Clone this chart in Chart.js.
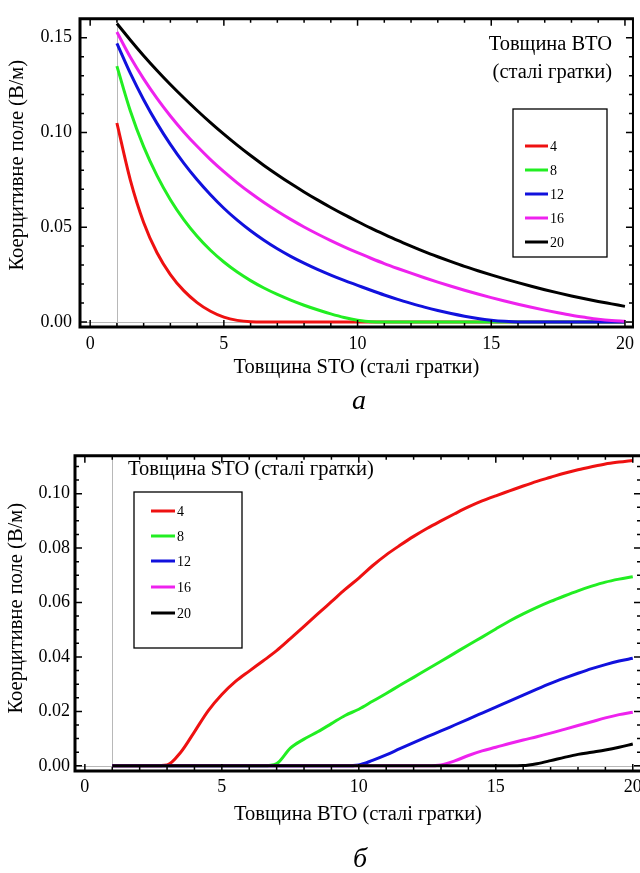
<!DOCTYPE html>
<html>
<head>
<meta charset="utf-8">
<title>Коерцитивне поле</title>
<script src="https://cdn.jsdelivr.net/npm/chart.js"></script>
<style>
  body { margin: 0; width: 640px; height: 873px; overflow: hidden; background: #fff; position: relative; font-family: "Liberation Serif", serif; }
  .box { position: absolute; left: 0; width: 640px; overflow: hidden; }
  .box canvas { display: block; }
  .cap { position: absolute; font-style: italic; font-size: 28px; line-height: 1; transform: translate(-50%, -50%); }
</style>
</head>
<body>
<div class="box" style="top:0;height:390px"><canvas id="chart_a" width="640" height="390"></canvas></div>
<div class="cap" style="left:359px;top:400px">а</div>
<div class="box" style="top:440px;height:400px"><canvas id="chart_b" width="660" height="400"></canvas></div>
<div class="cap" style="left:360px;top:858px">б</div>
<script>
// thickness in lattice constants (x for both panels)
const thickness = [1,1.5,2,2.5,3,3.5,4,4.5,5,5.5,6,6.5,7,7.5,8,8.5,9,9.5,10,10.5,11,11.5,12,12.5,13,13.5,14,14.5,15,15.5,16,16.5,17,17.5,18,18.5,19,19.5,20];
const labels = ["4", "8", "12", "16", "20"];
const colors = ["#ee1111", "#22ee22", "#1111dd", "#ee22ee", "#000000"];

// panel a: field vs STO thickness, one line per BTO thickness
const a4  = [0.105,0.075,0.0525,0.0365,0.025,0.0165,0.0102,0.0056,0.0025,0.0008,0.0001,0,0,0,0,0,0,0,0,0,0,0,0,0,0,0,0,0,0,0,0,0,0,0,0,0,0,0,0];
const a8  = [0.135,0.1115,0.0925,0.0772,0.0645,0.054,0.0452,0.0378,0.0316,0.0263,0.0218,0.0179,0.0145,0.0115,0.0088,0.0064,0.0042,0.0023,0.0009,0.0001,0,0,0,0,0,0,0,0,0,0,0,0,0,0,0,0,0,0,0];
const a12 = [0.147,0.1313,0.1173,0.1048,0.0937,0.0838,0.075,0.0671,0.060,0.0537,0.0481,0.0431,0.0386,0.0346,0.031,0.0277,0.0247,0.0219,0.0193,0.0167,0.0142,0.0119,0.0098,0.0078,0.006,0.0044,0.003,0.0018,0.0009,0.0003,0,0,0,0,0,0,0,0,0];
const a16 = [0.153,0.1398,0.1283,0.118,0.1087,0.1003,0.0927,0.0857,0.0793,0.0734,0.068,0.063,0.0584,0.0541,0.0501,0.0464,0.0429,0.0396,0.0365,0.0336,0.0308,0.0282,0.0257,0.0233,0.021,0.0188,0.0167,0.0147,0.0128,0.011,0.0093,0.0077,0.0062,0.0048,0.0035,0.0024,0.0014,0.0007,0.0003];
const a20 = [0.1575,0.1488,0.1405,0.1327,0.1253,0.1183,0.1116,0.1052,0.0991,0.0933,0.0878,0.0826,0.0777,0.073,0.0686,0.0644,0.0604,0.0566,0.053,0.0495,0.0462,0.043,0.04,0.0371,0.0344,0.0318,0.0293,0.027,0.0248,0.0227,0.0207,0.0188,0.017,0.0153,0.0137,0.0122,0.0108,0.0095,0.0082];

// panel b: field vs BTO thickness, one line per STO thickness
const b4  = [0,0,0,0,0.0003,0.005,0.0125,0.0202,0.0262,0.031,0.0348,0.0385,0.0423,0.0467,0.0512,0.0558,0.0603,0.0648,0.069,0.0735,0.0775,0.081,0.0843,0.0873,0.090,0.0926,0.0951,0.0973,0.0992,0.101,0.1028,0.1045,0.106,0.1075,0.1088,0.1099,0.1109,0.1116,0.1122];
const b8  = [0,0,0,0,0,0,0,0,0,0,0,0,0.0008,0.0065,0.0098,0.0125,0.0155,0.0185,0.0208,0.0237,0.0266,0.0296,0.0325,0.0355,0.0384,0.0414,0.0444,0.0473,0.0503,0.0532,0.0558,0.0582,0.0604,0.0624,0.0643,0.066,0.0675,0.0686,0.0695];
const b12 = [0,0,0,0,0,0,0,0,0,0,0,0,0,0,0,0,0,0,0.0003,0.002,0.004,0.0063,0.0085,0.0107,0.0128,0.015,0.0172,0.0194,0.0216,0.0238,0.026,0.0282,0.0303,0.0322,0.034,0.0357,0.0372,0.0385,0.0395];
const b16 = [0,0,0,0,0,0,0,0,0,0,0,0,0,0,0,0,0,0,0,0,0,0,0,0,0.0003,0.0018,0.0038,0.0055,0.0068,0.0082,0.0095,0.0107,0.012,0.0134,0.0148,0.0162,0.0176,0.0188,0.0197];
const b20 = [0,0,0,0,0,0,0,0,0,0,0,0,0,0,0,0,0,0,0,0,0,0,0,0,0,0,0,0,0,0,0.0001,0.0008,0.0019,0.0031,0.0042,0.005,0.0058,0.0068,0.008];

const xTicks = [0, 5, 10, 15, 20];
const yTicksA = [0, 0.05, 0.10, 0.15];
const yTicksB = [0, 0.02, 0.04, 0.06, 0.08, 0.10];

const yTitle = "Коерцитивне поле (В/м)";
const xTitleA = "Товщина STO (сталі гратки)";
const xTitleB = "Товщина ВТО (сталі гратки)";

const serif = "'Liberation Serif', 'Times New Roman', serif";

function datasets(series) {
  return series.map((vals, i) => ({
    label: labels[i],
    data: thickness.map((t, j) => ({ x: t, y: vals[j] })),
    borderColor: colors[i],
    backgroundColor: colors[i],
    borderWidth: 3,
    pointRadius: 0,
    fill: false,
    cubicInterpolationMode: "monotone",
    order: series.length - i   // later series drawn on top
  }));
}

// Mathematica-like frame: thin guide lines, inward ticks, boxed legend
const framePlugin = {
  id: "frame",
  beforeDatasetsDraw(chart) {
    const { ctx, chartArea: a, scales: { x, y } } = chart;
    ctx.save();
    ctx.strokeStyle = "#b8b8b8";
    ctx.lineWidth = 1;
    const px = Math.round(x.getPixelForValue(1)) + 0.5;
    const py = Math.round(y.getPixelForValue(0)) + 0.5;
    ctx.beginPath();
    ctx.moveTo(px, a.top); ctx.lineTo(px, a.bottom);
    ctx.moveTo(a.left, py); ctx.lineTo(a.right, py);
    ctx.stroke();
    ctx.restore();
  },
  afterDatasetsDraw(chart, args, opts) {
    const { ctx, chartArea: a, scales: { x, y } } = chart;
    ctx.save();
    ctx.strokeStyle = "#000";
    ctx.lineWidth = 1.5;
    ctx.beginPath();
    for (let v = 0; v <= 20; v++) {
      const p = x.getPixelForValue(v);
      const len = v % 5 === 0 ? 7 : 4;
      ctx.moveTo(p, a.bottom); ctx.lineTo(p, a.bottom - len);
      ctx.moveTo(p, a.top); ctx.lineTo(p, a.top + len);
    }
    for (let i = 0; i * opts.yMinor <= y.max; i++) {
      const p = y.getPixelForValue(i * opts.yMinor);
      const len = i % opts.yMajorEvery === 0 ? 7 : 4;
      ctx.moveTo(a.left, p); ctx.lineTo(a.left + len, p);
      ctx.moveTo(a.right, p); ctx.lineTo(a.right - len, p);
    }
    ctx.stroke();

    ctx.lineWidth = 3;
    ctx.beginPath();
    ctx.moveTo(a.left, a.top - 1.5); ctx.lineTo(a.left, a.bottom + 1.5);
    ctx.moveTo(a.left - 1.5, a.bottom); ctx.lineTo(a.right + 1, a.bottom);
    ctx.moveTo(a.left - 1.5, a.top); ctx.lineTo(a.right + 1, a.top);
    ctx.stroke();
    ctx.lineWidth = 2;
    ctx.beginPath();
    ctx.moveTo(a.right, a.top); ctx.lineTo(a.right, a.bottom);
    ctx.stroke();

    // legend
    const lg = opts.legend;
    ctx.lineWidth = 1.3;
    ctx.strokeRect(lg.box[0], lg.box[1], lg.box[2], lg.box[3]);
    ctx.fillStyle = "#000";
    ctx.font = "20.5px " + serif;
    ctx.textBaseline = "middle";
    ctx.textAlign = lg.titleAlign;
    lg.title.forEach((t, i) => ctx.fillText(t, lg.titleX, lg.titleY[i]));
    ctx.textAlign = "left";
    ctx.font = "14px " + serif;
    chart.data.datasets.forEach((ds, i) => {
      const yy = lg.rows[i];
      ctx.strokeStyle = ds.borderColor;
      ctx.lineWidth = 3;
      ctx.beginPath();
      ctx.moveTo(lg.line[0], yy); ctx.lineTo(lg.line[1], yy);
      ctx.stroke();
      ctx.fillText(ds.label, lg.line[1] + 2, yy + 1);
    });
    ctx.restore();
  }
};

function makeChart(id, series, cfg) {
  return new Chart(document.getElementById(id), {
    type: "line",
    data: { datasets: datasets(series) },
    plugins: [framePlugin],
    options: {
      responsive: false,
      animation: false,
      devicePixelRatio: 1,
      layout: { padding: cfg.padding },
      plugins: {
        legend: { display: false },
        tooltip: { enabled: false },
        frame: cfg.frame
      },
      scales: {
        x: {
          type: "linear",
          min: cfg.xMin, max: cfg.xMax,
          grid: { display: false, drawTicks: false },
          border: { display: false },
          afterBuildTicks: s => { s.ticks = xTicks.map(v => ({ value: v })); },
          afterFit: s => { s.height = cfg.xHeight; },
          ticks: { padding: cfg.xTickPad, color: "#000", font: { family: serif, size: 18 }, callback: v => String(v), maxRotation: 0 },
          title: { display: true, text: cfg.xTitle, color: "#000", font: { family: serif, size: 20.5 }, padding: { top: 0, bottom: cfg.xTitlePad } }
        },
        y: {
          type: "linear",
          min: cfg.yMin, max: cfg.yMax,
          grid: { display: false, drawTicks: false },
          border: { display: false },
          afterBuildTicks: s => { s.ticks = cfg.yTicks.map(v => ({ value: v })); },
          afterFit: s => { s.width = cfg.yWidth; },
          ticks: { padding: cfg.yTickPad, color: "#000", font: { family: serif, size: 18 }, callback: v => v.toFixed(2) },
          // leading no-break spaces nudge the rotated title up a little
          title: { display: true, text: "\u00a0".repeat(cfg.yTitleShift) + yTitle, color: "#000", font: { family: serif, size: 20.5 }, padding: { top: cfg.yTitlePad, bottom: 0 } }
        }
      }
    }
  });
}

makeChart("chart_a", [a4, a8, a12, a16, a20], {
  padding: { top: 10, right: 3, left: 0, bottom: 0 },
  xMin: -0.38, xMax: 20.3, yMin: -0.0027, yMax: 0.160,
  yTicks: yTicksA, xTitle: xTitleA,
  xHeight: 63, yWidth: 80, xTickPad: 6, yTickPad: 8, xTitlePad: 9.7, yTitlePad: 5.5, yTitleShift: 3,
  frame: {
    yMinor: 0.01, yMajorEvery: 5,
    legend: {
      box: [513, 109, 94, 148],
      line: [525, 548],
      rows: [146, 170, 194, 218, 242],
      title: ["Товщина ВТО", "(сталі гратки)"],
      titleAlign: "right", titleX: 612, titleY: [45, 73]
    }
  }
});

makeChart("chart_b", [b4, b8, b12, b16, b20], {
  padding: { top: 10, right: 19, left: 0, bottom: 0 },
  xMin: -0.36, xMax: 20.3, yMin: -0.0019, yMax: 0.1139,
  yTicks: yTicksB, xTitle: xTitleB,
  xHeight: 69, yWidth: 75, xTickPad: 5, yTickPad: 5, xTitlePad: 12.7, yTitlePad: 4.5, yTitleShift: 2,
  frame: {
    yMinor: 0.005, yMajorEvery: 4,
    legend: {
      box: [134, 52, 108, 156],
      line: [151, 175],
      rows: [71, 96, 121, 147, 173],
      title: ["Товщина STO (сталі гратки)"],
      titleAlign: "left", titleX: 128, titleY: [30]
    }
  }
});
</script>
</body>
</html>
